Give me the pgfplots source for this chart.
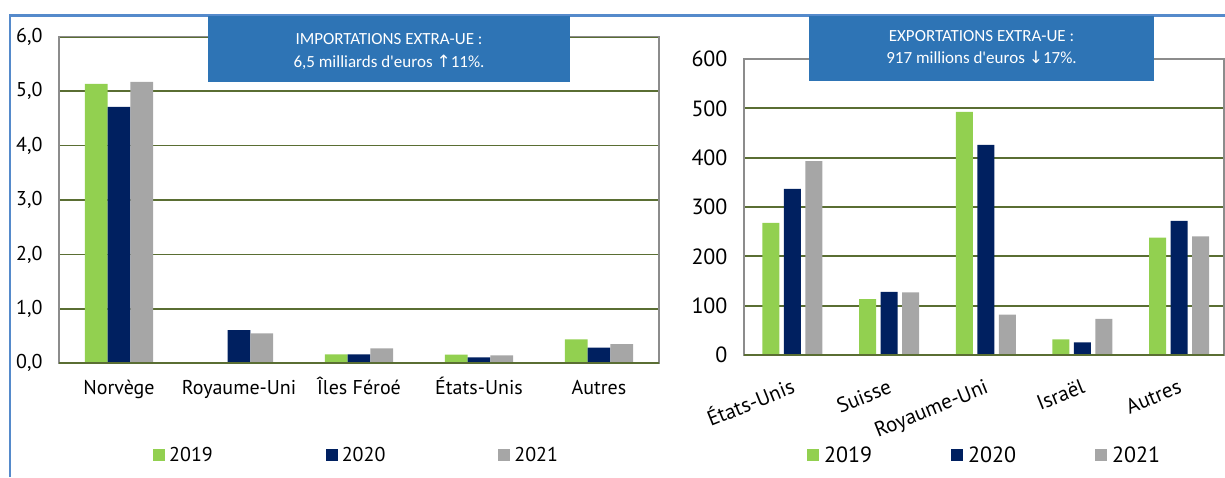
\documentclass[border=0pt]{standalone}
\usepackage{pgfplots}
\pgfplotsset{compat=1.18}
\usepackage{fontspec}
\setmainfont{PT Sans}
\newfontfamily\boxfont{Carlito}
\newfontfamily\arrowfont{DejaVu Sans}
\definecolor{cgreen}{HTML}{92D050}
\definecolor{cnavy}{HTML}{002060}
\definecolor{cgray}{HTML}{A6A6A6}
\definecolor{gridolive}{HTML}{5A6E33}
\definecolor{framegray}{HTML}{8C8C8C}
\definecolor{boxblue}{HTML}{2E74B5}
\definecolor{outerblue}{HTML}{558ACB}
\pgfplotsset{
  sq/.style={legend image code/.code={\fill[##1,draw=none] (0pt,-6pt) rectangle (12pt,6pt);}},
}
\begin{document}
\begin{tikzpicture}
\useasboundingbox (0pt,0pt) rectangle (1225pt,477pt);
\draw[outerblue, line width=2.5pt] (10pt,0pt) -- (10pt,461.5pt) -- (1225pt,461.5pt);

% Left: imports
\begin{axis}[
  at={(59pt,113.7pt)}, anchor=south west,
  scale only axis, width=600pt, height=326.7pt,
  xmin=-0.5, xmax=4.5, ymin=0, ymax=6,
  ybar=0pt, bar width=22.8pt,
  xtick={0,1,2,3,4},
  xticklabels={Norvège, Royaume-Uni, Îles Féroé, États-Unis, Autres},
  ytick={0,1,2,3,4,5,6},
  major tick length=0pt,
  ymajorgrids, grid style={gridolive, line width=1.8pt},
  axis line style={framegray, line width=1.6pt},
  font=\fontsize{20}{24}\selectfont,
  /pgf/number format/assume math mode=true,
  y tick label style={/pgf/number format/fixed, /pgf/number format/fixed zerofill,
     /pgf/number format/precision=1, /pgf/number format/use comma, xshift=-13pt},
  x tick label style={text height=14pt, text depth=4pt, yshift=-13.3pt},
  legend style={at={(0.1567,-0.2807)}, anchor=west, draw=none, fill=none,
     inner sep=0pt, legend columns=3, nodes={inner sep=0pt}, cells={anchor=west},
     /tikz/every odd column/.append style={column sep=4pt},
     /tikz/every even column/.append style={column sep=113pt}},
]
\addplot[fill=cgreen, draw=none, sq] coordinates {(0,5.13) (1,0) (2,0.165) (3,0.16) (4,0.44)};
\addplot[fill=cnavy, draw=none, sq] coordinates {(0,4.71) (1,0.61) (2,0.165) (3,0.11) (4,0.287)};
\addplot[fill=cgray, draw=none, sq] coordinates {(0,5.17) (1,0.55) (2,0.275) (3,0.147) (4,0.35)};
\legend{2019,2020,2021}
\draw[gridolive, line width=1.8pt] (rel axis cs:0,0) -- (rel axis cs:1,0);
\end{axis}

% Right: exports
\begin{axis}[
  at={(744pt,122pt)}, anchor=south west,
  scale only axis, width=480pt, height=296pt,
  xmin=-0.5, xmax=4.464, ymin=0, ymax=600,
  ybar=4.5pt, bar width=17pt,
  xtick={0,1,2,3,4},
  xticklabels={États-Unis, Suisse, Royaume-Uni, Israël, Autres},
  ytick={0,100,...,600},
  major tick length=0pt,
  ymajorgrids, grid style={gridolive, line width=1.8pt},
  axis line style={framegray, line width=1.6pt},
  font=\fontsize{22}{26}\selectfont,
  /pgf/number format/assume math mode=true,
  y tick label style={xshift=-13pt},
  x tick label style={font=\fontsize{21}{25}\selectfont, text height=15pt, text depth=4pt, yshift=-19pt, rotate=22, anchor=north east},
  legend style={at={(0.13125,-0.3378)}, anchor=west, draw=none, fill=none,
     inner sep=0pt, legend columns=3, nodes={inner sep=0pt}, cells={anchor=west},
     /tikz/every odd column/.append style={column sep=5pt},
     /tikz/every even column/.append style={column sep=79pt}},
]
\addplot[fill=cgreen, draw=none, sq] coordinates {(0,268) (1,113.5) (2,493) (3,31.8) (4,237.8)};
\addplot[fill=cnavy, draw=none, sq] coordinates {(0,336.5) (1,128) (2,425.7) (3,25.7) (4,272)};
\addplot[fill=cgray, draw=none, sq] coordinates {(0,393) (1,127) (2,81.7) (3,73) (4,240.6)};
\legend{2019,2020,2021}
\draw[gridolive, line width=1.8pt] (rel axis cs:0,0) -- (rel axis cs:1,0);
\end{axis}

% Title boxes
\fill[boxblue] (208pt,395pt) rectangle (570pt,461pt);
\node[text=white, font=\boxfont\fontsize{17}{20}\selectfont] at (389pt,438pt) {IMPORTATIONS EXTRA-UE :};
\node[text=white, font=\boxfont\fontsize{17}{20}\selectfont] at (389pt,415pt) {6,5 milliards d'euros {\arrowfont\fontsize{17}{20}\selectfont ↑}11\%.};
\fill[boxblue] (809pt,396pt) rectangle (1154pt,461pt);
\node[text=white, font=\boxfont\fontsize{17}{20}\selectfont] at (981.5pt,441pt) {EXPORTATIONS EXTRA-UE :};
\node[text=white, font=\boxfont\fontsize{17}{20}\selectfont] at (981.5pt,420pt) {917 millions d'euros {\arrowfont\fontsize{17}{20}\selectfont ↓}17\%.};
\end{tikzpicture}
\end{document}
